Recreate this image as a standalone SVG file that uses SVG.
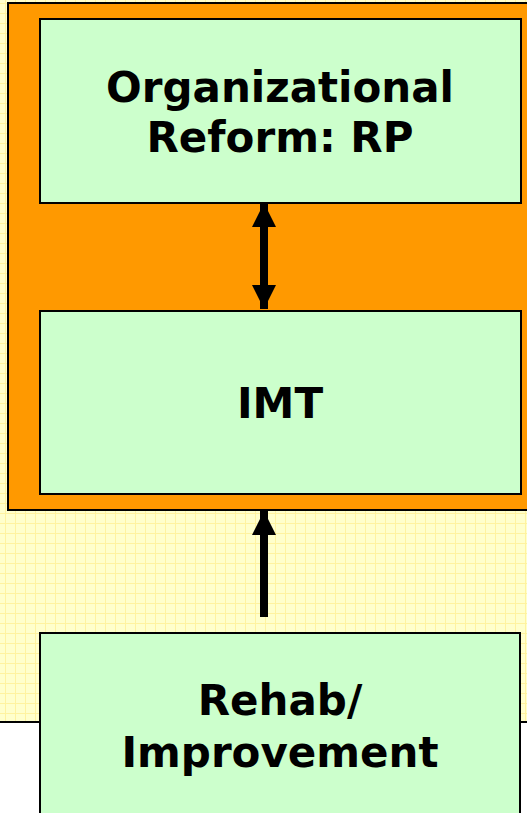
<svg xmlns="http://www.w3.org/2000/svg" width="527" height="813" viewBox="0 0 527 813">
<defs>
<pattern id="grid" x="5" y="3" width="10" height="10" patternUnits="userSpaceOnUse">
<rect width="10" height="10" fill="#FFFFCC"/>
<path d="M0 0.5H10M0.5 0V10" stroke="#FFF3A0" stroke-width="1" fill="none"/>
</pattern>
<marker id="ah" viewBox="0 0 24 24" markerWidth="24" markerHeight="24" refX="24" refY="12" orient="auto" markerUnits="userSpaceOnUse">
<path d="M0 0L24 12L0 24Z" fill="#000"/>
</marker>
</defs>
<style>
.node{fill:#CCFFCC;stroke:#000;stroke-width:2}
.lbl{font-family:"DejaVu Sans",Verdana,sans-serif;font-weight:bold;font-size:42px;fill:#000;text-anchor:middle}
.conn{stroke:#000;stroke-width:8;fill:none}
</style>
<rect x="0" y="0" width="527" height="722" fill="url(#grid)"/>
<rect x="0" y="722" width="527" height="91" fill="#fff"/>
<line x1="0" y1="722" x2="527" y2="722" stroke="#000" stroke-width="2"/>
<rect x="8" y="3" width="530" height="507" fill="#FF9900" stroke="#000" stroke-width="2"/>
<g id="node-org">
<rect class="node" x="40" y="19" width="481" height="184"/>
<text class="lbl" x="280" y="102">Organizational</text>
<text class="lbl" x="280" y="152">Reform: RP</text>
</g>
<g id="node-imt">
<rect class="node" x="40" y="311" width="481" height="183"/>
<text class="lbl" x="280" y="418">IMT</text>
</g>
<g id="node-rehab">
<rect class="node" x="40" y="633" width="480" height="190"/>
<text class="lbl" x="280" y="715">Rehab/</text>
<text class="lbl" x="280" y="767">Improvement</text>
</g>
<g id="connectors">
<line class="conn" x1="264" y1="256" x2="264" y2="203" marker-end="url(#ah)"/>
<line class="conn" x1="264" y1="256" x2="264" y2="309" marker-end="url(#ah)"/>
<line class="conn" x1="264" y1="617" x2="264" y2="511" marker-end="url(#ah)"/>
</g>
</svg>
